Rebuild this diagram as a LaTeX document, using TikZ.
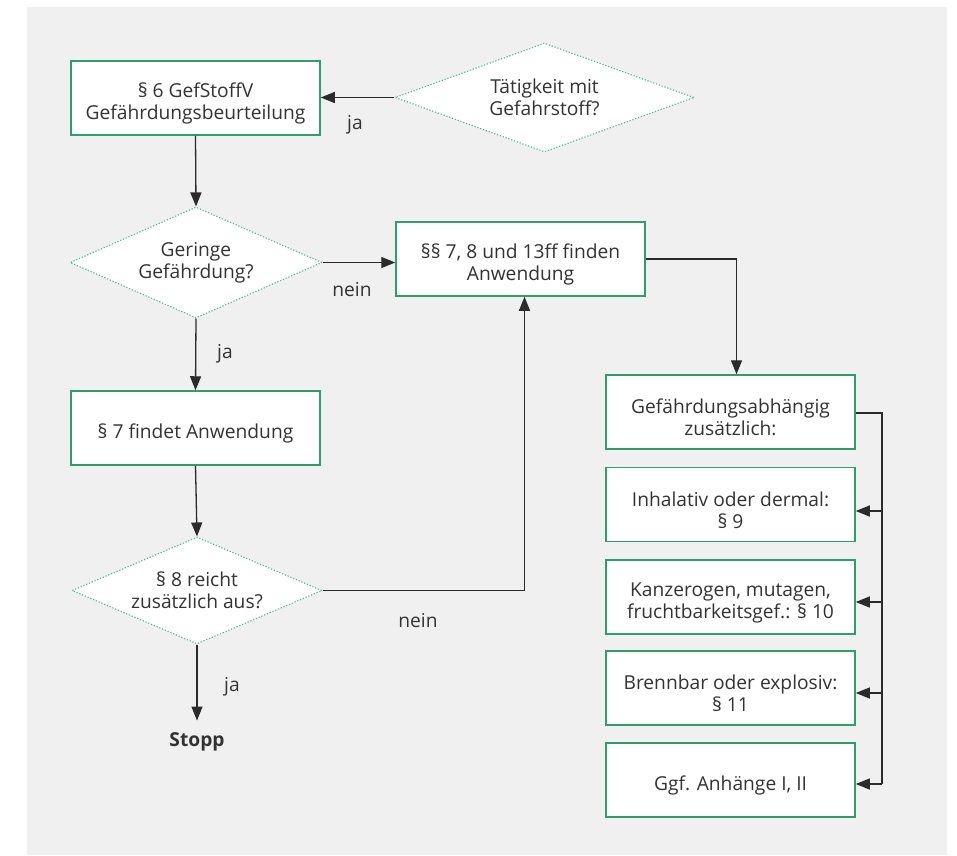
\documentclass[tikz,border=0pt]{standalone}
\usepackage{fontspec}
\setmainfont{Open Sans}
\usetikzlibrary{arrows.meta,shapes.geometric}
\definecolor{bg}{HTML}{F0F0F0}
\definecolor{boxgreen}{HTML}{2E9E6E}
\definecolor{dotgreen}{HTML}{4DB890}
\definecolor{txt}{HTML}{333333}
\definecolor{ln}{HTML}{2B2B2B}
\begin{document}
\begin{tikzpicture}[x=1pt,y=-1pt,
  font=\fontsize{19.2}{22}\selectfont, text=txt,
  btext/.style={align=center, inner sep=0pt, yshift=-5.5pt, text=txt},
  box/.style={draw=boxgreen, line width=1.5pt, fill=white, minimum width=249pt,
    minimum height=74pt, inner sep=0pt, label={[btext]center:{#1}}},
  dnode/.style={shape=diamond, draw=dotgreen, fill=white, line width=1.1pt,
    dash pattern=on 1.2pt off 1.8pt, align=center, inner sep=0pt},
  line/.style={draw=ln, line width=1.3pt},
  conn/.style={line, -{Triangle[length=14pt,width=11pt]}},
  lbl/.style={inner sep=0pt}]
\useasboundingbox (0,0) rectangle (957,855);
\fill[bg] (27,7) rectangle (947,855);

\node[box={§ 6 GefStoffV\\Gefährdungsbeurteilung}] (b1) at (195.5,98) {};
\node[dnode, minimum width=299pt, minimum height=109pt, aspect=2.74] (d1) at (544.5,97.5) {Tätigkeit mit\\Gefahrstoff?};
\node[dnode, minimum width=252pt, minimum height=111pt, aspect=2.27] (d2) at (196,262.5) {Geringe\\Gefährdung?};
\node[box={§§ 7, 8 und 13ff finden\\Anwendung}] (b2) at (520.5,259) {};
\node[box={§ 7 findet Anwendung}] (b3) at (195.5,428) {};
\node[dnode, minimum width=250pt, minimum height=107pt, aspect=2.34] (d3) at (197,590.5) {§ 8 reicht\\zusätzlich aus?};
\node[lbl, font=\fontsize{19.2}{22}\selectfont\bfseries] (stop) at (197,742) {Stopp};

\node[box={Gefährdungsabhängig\\zusätzlich:}] (b4) at (730.5,412) {};
\node[box={Inhalativ oder dermal:\\§ 9}] (b5) at (730.5,504.5) {};
\node[box={Kanzerogen, mutagen,\\fruchtbarkeitsgef.: § 10}] (b6) at (730.5,597) {};
\node[box={Brennbar oder explosiv:\\§ 11}] (b7) at (730.5,688) {};
\node[box={Ggf. Anhänge I, II}] (b8) at (730.5,780) {};

\node[lbl] (l1) at (355,125) {ja};
\node[lbl] (l2) at (352,290) {nein};
\node[lbl] (l3) at (225,354) {ja};
\node[lbl] (l4) at (418,621) {nein};
\node[lbl] (l5) at (232,687) {ja};

\draw[conn] (d1.west) -- (d1.west -| b1.east);
\draw[conn] (b1.south) -- (d2.north);
\draw[conn] (d2.east) -- (d2.east -| b2.west);
\draw[conn] (d2.south) -- (b3.north);
\draw[conn] (b3.south) -- (d3.north);
\draw[conn] (d3.east) -| ([xshift=4pt]b2.south);
\draw[conn] (d3.south) -- ([yshift=12pt]stop.north);
\draw[conn] (b2.east) -| ([xshift=6pt]b4.north);

\coordinate (rtop) at (882,413);
\coordinate (rbot) at (882,784);
\draw[line] (b4.east |- rtop) -- (rtop) -- (rbot);
\draw[conn] (rtop |- 0,511) -- (b5.east |- 0,511);
\draw[conn] (rtop |- 0,602) -- (b6.east |- 0,602);
\draw[conn] (rtop |- 0,693) -- (b7.east |- 0,693);
\draw[conn] (rbot) -- (b8.east |- rbot);
\end{tikzpicture}
\end{document}
